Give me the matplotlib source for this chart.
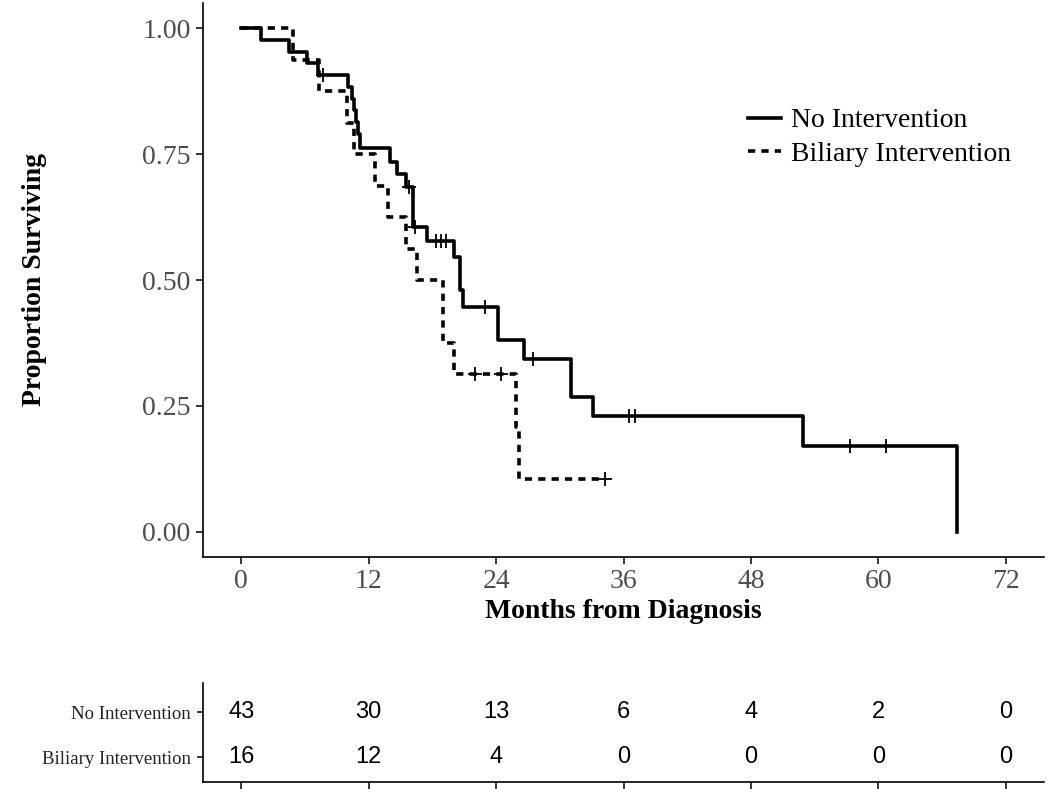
import numpy as np
import matplotlib.pyplot as plt
from matplotlib.lines import Line2D

# Kaplan-Meier step values
no_times = [0, 1.9, 4.5, 6.2, 7.2, 10.1, 10.4, 10.6, 10.8, 11.0, 11.2, 14.0, 14.7,
            15.5, 16.2, 17.5, 20.0, 20.6, 20.9, 24.2, 26.6, 31.1, 33.1, 52.9, 67.4]
no_surv = [1.0, 0.977, 0.953, 0.930, 0.907, 0.884, 0.860, 0.837, 0.813, 0.789, 0.762,
           0.735, 0.711, 0.685, 0.606, 0.577, 0.545, 0.480, 0.447, 0.380, 0.343,
           0.267, 0.229, 0.171, 0.0]
no_censor = [7.7, 15.8, 16.4, 18.3, 18.8, 19.3, 23.0, 27.5, 36.5, 37.1, 57.3, 60.7]

bil_times = [0, 4.9, 7.3, 9.95, 10.6, 12.6, 13.8, 15.5, 16.6, 19.0, 20.0, 25.9, 26.2, 34.3]
bil_surv = [1.0, 0.9375, 0.875, 0.8125, 0.75, 0.6875, 0.625, 0.5625, 0.5, 0.375,
            0.3125, 0.208, 0.104, 0.104]
bil_censor = [22.0, 24.5, 34.3]

# numbers at risk
risk_times = [0, 12, 24, 36, 48, 60, 72]
risk_no = [43, 30, 13, 6, 4, 2, 0]
risk_bil = [16, 12, 4, 0, 0, 0, 0]

groups = ['No Intervention', 'Biliary Intervention']


def surv_at(times, surv, t):
    idx = np.searchsorted(times, t, side='right') - 1
    return np.asarray(surv)[idx]


serif = 'Liberation Serif'
tick_col = '#4D4D4D'
lw = 2.6

fig = plt.figure(figsize=(10.5, 7.89), dpi=100)
ax = fig.add_axes([203 / 1050, 1 - 557 / 789, (1044 - 203) / 1050, (557 - 3) / 789])

ls_dash = (0, (2.0, 1.7))
ax.plot(no_times, no_surv, drawstyle='steps-post', color='black', lw=lw)
ax.plot(bil_times, bil_surv, drawstyle='steps-post', color='black', lw=lw, linestyle=ls_dash)
ax.plot(no_censor, surv_at(no_times, no_surv, no_censor), ls='none', marker='+',
        color='black', ms=10, mew=1.3)
ax.plot(bil_censor, surv_at(bil_times, bil_surv, bil_censor), ls='none', marker='+',
        color='black', ms=10, mew=1.3)

ax.set_xlim(-3.6, 75.6)
ax.set_ylim(-0.05, 1.05)
ax.set_xticks(risk_times)
ax.set_yticks([0, 0.25, 0.5, 0.75, 1.0])
ax.set_yticklabels(['0.00', '0.25', '0.50', '0.75', '1.00'])
for s in ['top', 'right']:
    ax.spines[s].set_visible(False)
for s in ['left', 'bottom']:
    ax.spines[s].set_linewidth(1.2)
ax.tick_params(length=5, width=1.1, labelsize=20, labelcolor=tick_col, pad=4)
for lab in ax.get_xticklabels() + ax.get_yticklabels():
    lab.set_family(serif)
ax.set_xlabel('Months from Diagnosis', family=serif, fontweight='bold', fontsize=20, labelpad=3)
ax.set_ylabel('Proportion Surviving', family=serif, fontweight='bold', fontsize=20)
ax.yaxis.set_label_coords((47 - 203) / 841, 0.5)

handles = [Line2D([], [], color='black', lw=lw),
           Line2D([], [], color='black', lw=lw, linestyle=ls_dash)]
ax.legend(handles, groups, loc='upper left', bbox_to_anchor=(734 / 1050, 1 - 94 / 789),
          bbox_transform=fig.transFigure, frameon=False, borderpad=0, handlelength=1.2,
          handletextpad=0.35, labelspacing=0.3, prop={'family': serif, 'size': 20})

# risk table
ax2 = fig.add_axes([203 / 1050, 1 - 782 / 789, (1044 - 203) / 1050, (782 - 683) / 789])
ax2.set_xlim(-3.6, 75.6)
ax2.set_ylim(0.45, 2.65)
for t, a, b in zip(risk_times, risk_no, risk_bil):
    ax2.text(t, 2, str(a), ha='center', va='center', fontsize=17, family='Liberation Sans')
    ax2.text(t, 1, str(b), ha='center', va='center', fontsize=17, family='Liberation Sans')
ax2.set_yticks([2, 1])
ax2.set_yticklabels(groups, family=serif, fontsize=13.5, color='#222222')
ax2.set_xticks(risk_times)
ax2.set_xticklabels([])
for s in ['top', 'right']:
    ax2.spines[s].set_visible(False)
for s in ['left', 'bottom']:
    ax2.spines[s].set_linewidth(1.2)
ax2.tick_params(axis='y', length=4, width=1.1, pad=5)
ax2.tick_params(axis='x', length=6, width=1.1)

fig.savefig('out.png', dpi=100)
